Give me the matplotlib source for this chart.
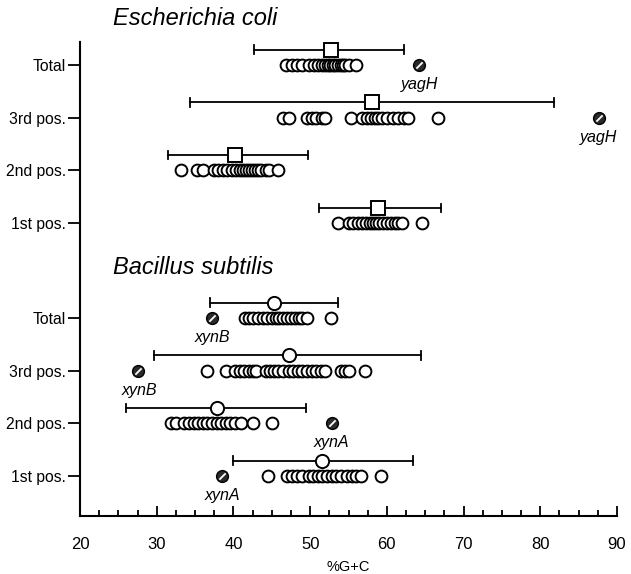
import numpy as np
import matplotlib
matplotlib.use('Agg')
import matplotlib.pyplot as plt

plt.rcParams['font.family'] = ['Liberation Sans', 'DejaVu Sans']

row_labels = ['Total', '3rd pos.', '2nd pos.', '1st pos.',
              'Total', '3rd pos.', '2nd pos.', '1st pos.']
row_pos = [0, 1, 2, 3, 4.8, 5.8, 6.8, 7.8]

# E. coli genes, %G+C
ec_total = [46.8, 47.6, 48.3, 49.0, 49.8, 50.5, 51.0, 51.5, 52.0, 52.3, 52.6,
            53.0, 53.3, 53.6, 54.0, 54.3, 54.6, 55.0, 56.0]
ec_3rd = [46.5, 47.2, 49.6, 50.2, 50.8, 51.5, 51.9, 55.3, 56.8, 57.4, 57.9,
          58.4, 58.9, 59.4, 60.0, 60.8, 61.5, 62.2, 62.8, 66.7]
ec_2nd = [33.2, 35.3, 36.0, 37.5, 38.0, 38.6, 39.2, 39.8, 40.3, 40.8, 41.2,
          41.6, 42.0, 42.4, 42.8, 43.2, 43.6, 44.2, 44.7, 45.8]
ec_1st = [53.6, 55.0, 55.6, 56.2, 56.8, 57.3, 57.8, 58.2, 58.6, 59.0, 59.5,
          60.0, 60.6, 61.0, 61.5, 62.0, 64.6]

# B. subtilis genes, %G+C
bs_total = [41.5, 42.0, 42.6, 43.2, 43.8, 44.4, 45.0, 45.5, 46.0, 46.5, 47.0,
            47.5, 48.0, 48.5, 49.0, 49.6, 52.7]
bs_3rd = [36.5, 39.0, 40.2, 40.8, 41.4, 42.0, 42.5, 43.0, 44.2, 44.8, 45.3,
          45.8, 46.5, 47.2, 47.8, 48.4, 49.0, 49.6, 50.2, 50.8, 51.4, 52.0,
          54.0, 54.6, 55.0, 57.2]
bs_2nd = [31.8, 32.5, 33.6, 34.2, 34.8, 35.4, 36.0, 36.6, 37.2, 37.8, 38.4,
          39.0, 39.6, 40.2, 41.0, 42.5, 45.0]
bs_1st = [44.5, 47.0, 47.6, 48.3, 49.0, 49.8, 50.4, 51.0, 51.6, 52.2, 52.8,
          53.4, 54.0, 54.8, 55.5, 56.0, 56.6, 59.2]

points = [ec_total, ec_3rd, ec_2nd, ec_1st, bs_total, bs_3rd, bs_2nd, bs_1st]

# mean and range bars
means = [52.7, 58.0, 40.2, 58.8, 45.3, 47.2, 37.8, 51.6]
bar_lo = [42.7, 34.3, 31.5, 51.2, 37.0, 29.7, 26.0, 40.0]
bar_hi = [62.2, 81.8, 49.7, 67.0, 53.6, 64.4, 49.5, 63.4]
mean_marker = ['s', 's', 's', 's', 'o', 'o', 'o', 'o']

# outlier genes
out_row = [0, 1, 4, 5, 6, 7]
out_val = [64.2, 87.6, 37.2, 27.5, 52.8, 38.5]
out_name = ['yagH', 'yagH', 'xynB', 'xynB', 'xynA', 'xynA']
out_dx = [0.0, 0.0, 0.0, 0.3, 0.0, 0.0]

fig = plt.figure(figsize=(6.31, 5.74), dpi=100)
ax = fig.add_axes([80/631, 58/574, 537/631, 474/574])

for i, vals in enumerate(points):
    y = row_pos[i]
    ax.plot(vals, [y]*len(vals), 'o', ms=8.5, mfc='white', mec='black', mew=1.4,
            linestyle='none')
    yb = y - 0.29
    ax.plot([bar_lo[i], bar_hi[i]], [yb, yb], color='black', lw=1.3)
    for xe in (bar_lo[i], bar_hi[i]):
        ax.plot([xe, xe], [yb - 0.08, yb + 0.08], color='black', lw=1.3)
    ax.plot([means[i]], [yb], marker=mean_marker[i], ms=9.5, mfc='white',
            mec='black', mew=1.4, linestyle='none', zorder=5)

slash = [(-1, -1), (1, 1)]
for r, v, n, dx in zip(out_row, out_val, out_name, out_dx):
    y = row_pos[r]
    ax.plot([v], [y], 'o', ms=8.5, mfc='#2a2a2a', mec='black', mew=1.0, zorder=6)
    ax.plot([v], [y], marker=slash, ms=4.5, mec='white', mew=1.3, zorder=7)
    ax.text(v + dx, y + 0.37, n, style='italic', fontsize=11.5,
            ha='center', va='center')

ax.text(24.3, -0.89, 'Escherichia coli', style='italic', fontsize=17,
        ha='left', va='center', clip_on=False)
ax.text(24.3, 3.85, 'Bacillus subtilis', style='italic', fontsize=17,
        ha='left', va='center', clip_on=False)

ax.set_xlim(20, 90)
ax.set_ylim(8.56, -0.436)
ax.set_xticks(np.arange(20, 91, 10))
ax.set_xticks(np.arange(20, 90.1, 2.5), minor=True)
ax.set_yticks(row_pos)
ax.set_yticklabels(row_labels, fontsize=11.3)
ax.tick_params(axis='x', which='major', direction='in', length=7, width=1.3,
               labelsize=12, pad=15)
ax.tick_params(axis='x', which='minor', direction='in', length=4, width=1.3)
ax.tick_params(axis='y', direction='out', length=9, width=1.3, pad=1)
ax.set_xlabel('%G+C', fontsize=10.5, labelpad=6)

for s in ('top', 'right'):
    ax.spines[s].set_visible(False)
for s in ('left', 'bottom'):
    ax.spines[s].set_linewidth(1.5)

fig.savefig('out.png', dpi=100)
